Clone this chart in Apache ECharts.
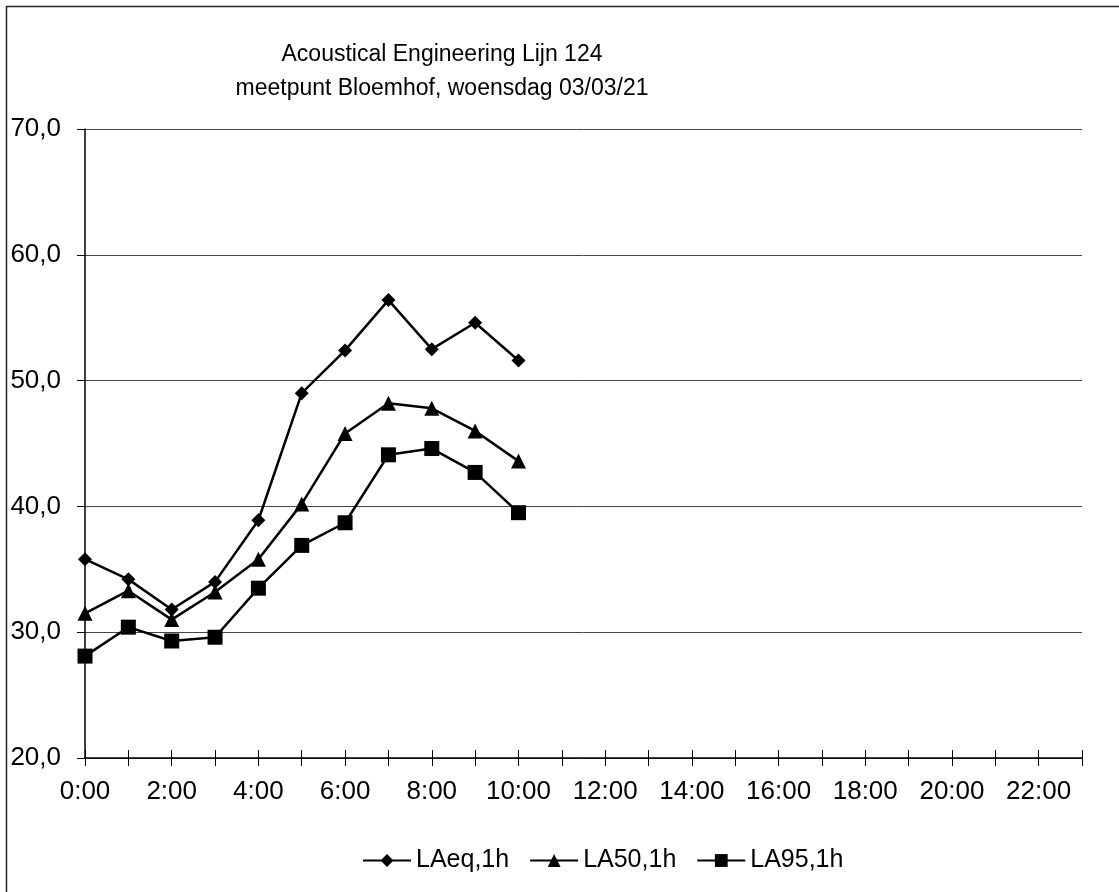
<!DOCTYPE html>
<html>
<head>
<meta charset="utf-8">
<script src="https://cdn.jsdelivr.net/npm/echarts@6/dist/echarts.min.js"></script>
<style>
  html, body { margin: 0; padding: 0; background: #fff; }
  #chart { width: 1119px; height: 892px; }
</style>
</head>
<body>
<div id="chart"></div>
<script>
// hours of the day
const hours = [];
for (let h = 0; h < 24; h++) hours.push(h + ":00");

// measured values, 0:00 .. 10:00
const laeq = [35.8, 34.2, 31.8, 34.0, 38.9, 49.0, 52.4, 56.4, 52.5, 54.6, 51.6];
const la50 = [31.5, 33.3, 31.0, 33.2, 35.8, 40.2, 45.8, 48.2, 47.8, 46.0, 43.6];
const la95 = [28.1, 30.4, 29.3, 29.6, 33.5, 36.9, 38.7, 44.1, 44.6, 42.7, 39.5];

const font = "Liberation Sans";
const chart = echarts.init(document.getElementById("chart"));

// gemeenschappelijke stijl voor de lijnen
const lineSeries = (name, data, symbol, size) => ({
  name: name,
  type: "line",
  data: data,
  symbol: symbol,
  symbolSize: size,
  showAllSymbol: true,
  animation: false,
  lineStyle: { color: "#000", width: 2.5 },
  itemStyle: { color: "#000", borderWidth: 0 },
  emphasis: { disabled: true },
});

const option = {
  backgroundColor: "#fff",
  animation: false,
  textStyle: { fontFamily: font },
  title: {
    text: "Acoustical Engineering Lijn 124\nmeetpunt Bloemhof, woensdag 03/03/21",
    left: 437,
    textAlign: "center",
    top: 33,
    textStyle: {
      fontFamily: font,
      fontSize: 23,
      fontWeight: "normal",
      color: "#000",
      lineHeight: 34,
    },
  },
  legend: {
    left: 357,
    top: 843,
    itemWidth: 48,
    itemHeight: 16,
    itemGap: 20,
    textStyle: { fontFamily: font, fontSize: 25, color: "#000" },
    data: ["LAeq,1h", "LA50,1h", "LA95,1h"],
  },
  grid: { left: 85, right: 37, top: 129, bottom: 134 },
  xAxis: [
    {
      type: "category",
      data: hours,
      boundaryGap: false,
      axisLine: { lineStyle: { color: "#000", width: 1.5 } },
      axisTick: { interval: 0, length: 8, lineStyle: { color: "#000" } },
      axisLabel: {
        interval: 1,
        margin: 21,
        color: "#000",
        fontSize: 26,
        fontFamily: font,
      },
      splitLine: { show: false },
    },
    {
      // ticks naar binnen, zodat ze de as kruisen
      type: "category",
      data: hours,
      position: "bottom",
      boundaryGap: false,
      axisLine: { show: false },
      axisTick: { interval: 0, inside: true, length: 8, lineStyle: { color: "#000" } },
      axisLabel: { show: false },
      splitLine: { show: false },
    },
  ],
  yAxis: {
    type: "value",
    min: 20,
    max: 70,
    interval: 10,
    axisLine: { show: true, lineStyle: { color: "#000", width: 1.5 } },
    axisTick: { show: true, length: 8, lineStyle: { color: "#000" } },
    axisLabel: {
      margin: 24,
      color: "#000",
      fontSize: 26,
      fontFamily: font,
      formatter: (v) => v.toFixed(1).replace(".", ","),
    },
    splitLine: { show: true, lineStyle: { color: "#444", width: 1 } },
  },
  graphic: [
    {
      type: "rect",
      shape: { x: 6.5, y: 6.5, width: 1300, height: 1000 },
      style: { fill: "none", stroke: "#222", lineWidth: 1.5 },
      silent: true,
    },
  ],
  series: [
    lineSeries("LAeq,1h", laeq, "diamond", 14),
    lineSeries("LA50,1h", la50, "triangle", 15),
    lineSeries("LA95,1h", la95, "rect", 15),
  ],
};

chart.setOption(option);
</script>
</body>
</html>
